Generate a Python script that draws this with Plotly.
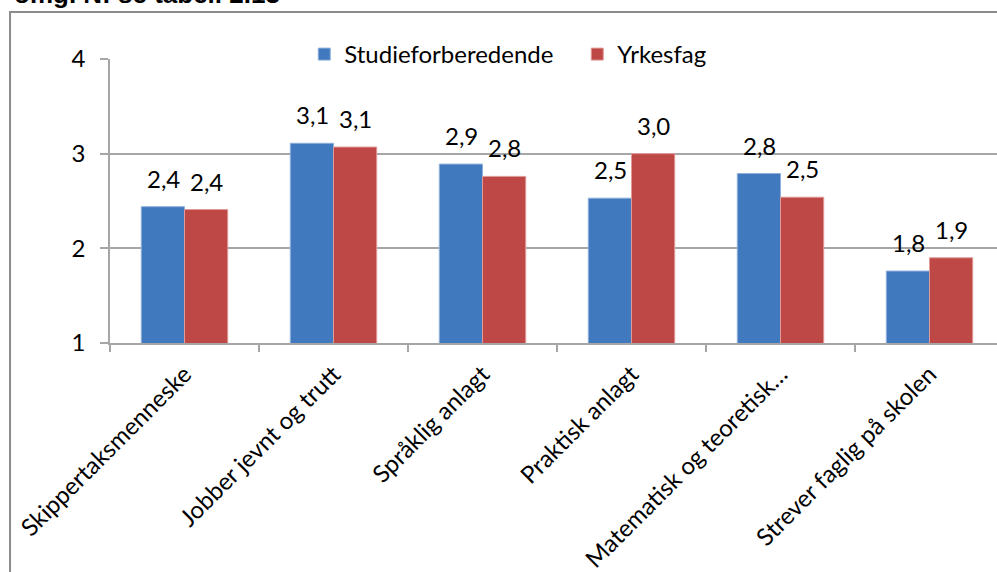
import plotly.graph_objects as go

# Category labels and mean scores per study track
categories = [
    "Skippertaksmenneske",
    "Jobber jevnt og trutt",
    "Språklig anlagt",
    "Praktisk anlagt",
    "Matematisk og teoretisk…",
    "Strever faglig på skolen",
]
studie = [2.44, 3.11, 2.89, 2.53, 2.79, 1.76]
yrkesfag = [2.41, 3.07, 2.76, 3.00, 2.54, 1.90]
series_names = ["Studieforberedende", "Yrkesfag"]
y_ticks = [1, 2, 3, 4]

BLUE = "#4179be"
RED = "#be4845"
GRID = "#a6a6a6"
FONT = "Lato, Carlito, Calibri, sans-serif"
FS = 24

fig = go.Figure()
fig.add_trace(go.Bar(name=series_names[0], x=categories, y=studie,
                     marker=dict(color=BLUE, line=dict(color="#8fb0dc", width=1))))
fig.add_trace(go.Bar(name=series_names[1], x=categories, y=yrkesfag,
                     marker=dict(color=RED, line=dict(color="#e09a98", width=1))))


def fmt(v):
    return f"{v:.1f}".replace(".", ",")


annotations = []
for vals, shift in ((studie, -21.5), (yrkesfag, 21.5)):
    for c, v in zip(categories, vals):
        annotations.append(dict(
            x=c, y=v, xref="x", yref="y", text=fmt(v), showarrow=False,
            xshift=shift, yshift=12, yanchor="bottom",
            font=dict(family=FONT, size=FS, color="#000000")))

# Source note, partly above the visible page
annotations.append(dict(
    x=-0.11, y=1.17, xref="paper", yref="paper", xanchor="left", yanchor="bottom",
    text="<b>omg. N: se tabell 2.13</b>", showarrow=False,
    font=dict(family="Liberation Sans, Arial, sans-serif", size=26, color="#000000")))

fig.update_layout(
    width=997, height=572,
    margin=dict(l=110, r=0, t=59, b=229, autoexpand=False),
    paper_bgcolor="white", plot_bgcolor="white",
    barmode="group", bargap=0.42, bargroupgap=0,
    font=dict(family=FONT, size=FS, color="#000000"),
    showlegend=True,
    legend=dict(orientation="h", x=0.219, y=1.095, xanchor="left", yanchor="top",
                bgcolor="rgba(0,0,0,0)", font=dict(family=FONT, size=FS),
                itemwidth=30, tracegroupgap=0, entrywidth=228),
    annotations=annotations,
    shapes=[dict(type="rect", xref="paper", yref="paper",
                 x0=-0.1127, x1=1.05, y0=-0.9, y1=1.1655,
                 line=dict(color="#8c8c8c", width=2), fillcolor="rgba(0,0,0,0)",
                 layer="below")],
)

fig.update_xaxes(
    type="category", range=[-0.5, 5.453], tickson="boundaries",
    ticks="outside", ticklen=7, tickcolor=GRID, tickwidth=1.5,
    showline=True, linecolor=GRID, linewidth=1.5,
    showgrid=False, tickangle=-45, ticklabelstandoff=6, automargin=False,
    tickfont=dict(family=FONT, size=FS),
)
fig.update_yaxes(
    range=[1, 4], tickvals=y_ticks, ticktext=[str(t) for t in y_ticks],
    ticks="outside", ticklen=8, tickcolor=GRID, tickwidth=1.5,
    showline=True, linecolor=GRID, linewidth=1.5,
    showgrid=True, gridcolor=GRID, gridwidth=1.5,
    zeroline=False, ticklabelstandoff=10, automargin=False,
    tickfont=dict(family=FONT, size=FS),
)

fig.write_html("out.html")
